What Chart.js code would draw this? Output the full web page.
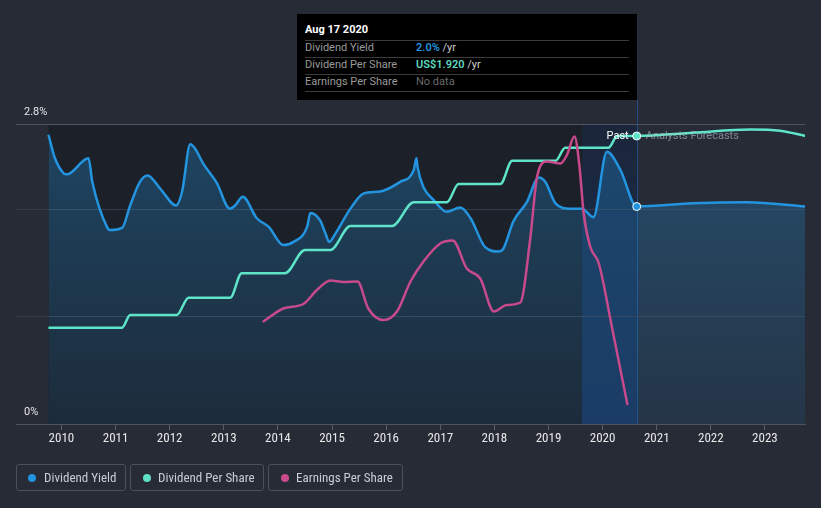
<!DOCTYPE html>
<html><head><meta charset="utf-8">
<script src="https://cdn.jsdelivr.net/npm/chart.js@4.4.0/dist/chart.umd.min.js"></script>
<style>
html,body{margin:0;padding:0;background:#262b36;width:821px;height:508px;overflow:hidden;font-family:Roboto,"Open Sans",sans-serif;}
canvas{position:absolute;left:0;top:0;}
#tip{position:absolute;left:297px;top:14px;width:340px;height:86px;background:#000;}
#tip .t{position:absolute;left:8px;top:9px;font-size:11px;font-weight:bold;color:#fff;line-height:14px;}
#tip .sep{position:absolute;left:8px;width:324px;height:1px;background:#3b3b3b;}
#tip .row{position:absolute;left:8px;width:324px;height:14px;line-height:14px;font-size:11px;}
#tip .lab{position:absolute;left:0;color:#9a9a9a;}
#tip .val{position:absolute;left:111px;color:#cfcfcf;}
.leg{position:absolute;top:464px;height:25px;border:1px solid #4a505b;border-radius:3px;box-sizing:content-box;}
.leg .dot{position:absolute;top:9px;width:8px;height:8px;border-radius:50%;}
.leg .txt{position:absolute;top:0;line-height:25px;font-family:"Liberation Sans Narrow","Roboto Condensed",Roboto,sans-serif;font-size:13px;color:#c9cdd4;white-space:nowrap;}
</style></head>
<body>
<canvas id="c" width="821" height="508"></canvas>
<div id="tip">
  <div class="t" id="tipTitle"></div>
  <div class="sep" style="top:26px"></div>
  <div class="row" style="top:27px"><span class="lab">Dividend Yield</span><span class="val"><b id="tipY" style="color:#2394df;font-weight:600"></b> /yr</span></div>
  <div class="sep" style="top:43px"></div>
  <div class="row" style="top:44px"><span class="lab">Dividend Per Share</span><span class="val"><b id="tipD" style="color:#5fd9c2;font-weight:600"></b> /yr</span></div>
  <div class="sep" style="top:60px"></div>
  <div class="row" style="top:61px"><span class="lab">Earnings Per Share</span><span class="val" style="color:#6a6a6a">No data</span></div>
  <div class="sep" style="top:77px"></div>
</div>
<div class="leg" style="left:16px;width:108px"><div class="dot" style="left:11px;background:#2394df"></div><div class="txt" style="left:27px">Dividend Yield</div></div>
<div class="leg" style="left:130px;width:132px"><div class="dot" style="left:12px;background:#5fe0c6"></div><div class="txt" style="left:27px">Dividend Per Share</div></div>
<div class="leg" style="left:268px;width:133px"><div class="dot" style="left:12px;background:#c74a8c"></div><div class="txt" style="left:27px">Earnings Per Share</div></div>
<script>
// ---- data (decimal years) ----
const yieldYears = [2009.76,2009.88,2010.04,2010.10,2010.50,2010.57,2010.84,2010.90,2011.12,2011.27,2011.45,2011.59,2011.82,2012.12,2012.23,2012.38,2012.47,2012.62,2012.87,2013.11,2013.21,2013.35,2013.61,2013.83,2014.10,2014.29,2014.54,2014.60,2014.78,2014.87,2014.95,2015.03,2015.34,2015.58,2015.89,2016.26,2016.51,2016.56,2016.58,2016.69,2016.88,2017.12,2017.37,2017.56,2017.83,2018.08,2018.17,2018.35,2018.60,2018.82,2018.94,2019.13,2019.40,2019.62,2019.83,2020.08,2020.33,2020.63,2021.68,2022.67,2023.75];
const yieldValues = [2.70,2.48,2.34,2.33,2.48,2.26,1.84,1.81,1.83,2.04,2.26,2.32,2.20,2.04,2.17,2.61,2.57,2.43,2.25,2.01,2.04,2.12,1.92,1.84,1.67,1.70,1.84,1.97,1.90,1.79,1.70,1.75,2.01,2.15,2.17,2.26,2.37,2.48,2.40,2.21,2.09,1.98,2.02,1.92,1.65,1.61,1.64,1.89,2.07,2.30,2.26,2.06,2.01,2.01,1.93,2.54,2.37,2.03,2.06,2.07,2.03];
const dpsYears = [2009.76,2011.12,2011.27,2012.13,2012.35,2013.12,2013.33,2014.13,2014.50,2014.97,2015.34,2016.11,2016.51,2017.12,2017.34,2018.11,2018.33,2019.13,2019.31,2020.11,2020.27,2020.63,2021.68,2022.73,2023.28,2023.75];
const dpsValues = [0.642,0.642,0.727,0.727,0.842,0.842,1.005,1.005,1.16,1.16,1.32,1.32,1.478,1.478,1.60,1.60,1.755,1.755,1.842,1.842,1.92,1.92,1.942,1.963,1.955,1.92];
const epsYears = [2013.72,2014.10,2014.47,2014.72,2014.97,2015.21,2015.47,2015.67,2015.95,2016.20,2016.45,2016.69,2017.00,2017.23,2017.49,2017.74,2017.99,2018.23,2018.48,2018.66,2018.79,2018.97,2019.22,2019.34,2019.48,2019.57,2019.65,2019.77,2019.93,2020.17,2020.46];
const epsValues = [2.04,2.31,2.40,2.68,2.87,2.84,2.85,2.31,2.08,2.25,2.85,3.25,3.61,3.67,3.11,2.91,2.25,2.38,2.43,3.68,4.95,5.25,5.21,5.38,5.75,5.18,4.21,3.55,3.21,1.95,0.38];
const yearTicks = [2010,2011,2012,2013,2014,2015,2016,2017,2018,2019,2020,2021,2022,2023];
const yieldAxisLabels = [2.8, 0];
const yieldGrid = [0,1,2,2.8];
const NOW = 2020.63;
const LAST_YEAR_START = 2019.62;
const tipTitle = 'Aug 17 2020';

const pts = (xs, ys) => xs.map((x,i)=>({x, y: ys[i]}));
const iNow = yieldYears.indexOf(NOW), dNow = dpsYears.indexOf(NOW);
document.getElementById('tipTitle').textContent = tipTitle;
document.getElementById('tipY').textContent = yieldValues[iNow].toFixed(1) + '%';
document.getElementById('tipD').textContent = 'US$' + dpsValues[dNow].toFixed(3);

const fillGrad = (c) => {
  const a = c.chart.chartArea;
  if (!a) return 'rgba(35,148,223,0.2)';
  const g = c.chart.ctx.createLinearGradient(0, a.top, 0, a.bottom);
  g.addColorStop(0, 'rgba(35,148,223,0.32)');
  g.addColorStop(1, 'rgba(35,148,223,0.10)');
  return g;
};
const nowRadius = (c) => (c.raw && c.raw.x === NOW) ? 4 : 0;

const decor = {
  id: 'decor',
  beforeDraw(chart) {
    const {ctx, chartArea: a, scales: {x}} = chart;
    const x0 = x.getPixelForValue(yieldYears[0]);
    const xn = x.getPixelForValue(NOW);
    const xb = x.getPixelForValue(LAST_YEAR_START);
    ctx.save();
    ctx.fillStyle = 'rgba(0,0,0,0.25)';
    ctx.fillRect(x0, a.top, xn - x0, a.bottom - a.top);
    const g = ctx.createLinearGradient(0, a.top, 0, a.bottom);
    g.addColorStop(0, 'rgba(20,70,150,0.16)');
    g.addColorStop(1, 'rgba(20,80,170,0.38)');
    ctx.fillStyle = g;
    ctx.fillRect(xb, a.top, xn - xb, a.bottom - a.top);
    ctx.strokeStyle = '#1f4b86';
    ctx.lineWidth = 1;
    ctx.beginPath();
    ctx.moveTo(Math.round(xn) + 0.5, 100);
    ctx.lineTo(Math.round(xn) + 0.5, a.bottom);
    ctx.stroke();
    ctx.restore();
  },
  afterDraw(chart) {
    const {ctx, scales: {x, y, yd}} = chart;
    ctx.save();
    ctx.font = '11px Roboto, sans-serif';
    ctx.textBaseline = 'middle';
    ctx.fillStyle = '#e6e6e6';
    ctx.textAlign = 'left';
    yieldAxisLabels.forEach(v => ctx.fillText(v + '%', 24, y.getPixelForValue(v) - 12));
    const xn = x.getPixelForValue(NOW);
    const yp = yd.getPixelForValue(dpsValues[dNow]);
    ctx.textAlign = 'right';
    ctx.fillStyle = '#ffffff';
    ctx.fillText('Past', xn - 8, yp + 0.5);
    ctx.textAlign = 'left';
    ctx.fillStyle = 'rgba(190,195,205,0.6)';
    ctx.fillText('Analysts Forecasts', xn + 9, yp + 0.5);
    ctx.restore();
  }
};

new Chart(document.getElementById('c'), {
  type: 'line',
  data: {
    datasets: [
      { label: 'Earnings Per Share', data: pts(epsYears, epsValues), yAxisID: 'ye',
        borderColor: '#c74a8c', borderWidth: 2.5, fill: false, pointRadius: 0, cubicInterpolationMode: 'monotone' },
      { label: 'Dividend Per Share', data: pts(dpsYears, dpsValues), yAxisID: 'yd',
        borderColor: '#5ee4c8', borderWidth: 2.5, fill: false, cubicInterpolationMode: 'monotone',
        pointRadius: nowRadius, pointBackgroundColor: '#5ee4c8', pointBorderColor: '#ffffff', pointBorderWidth: 1 },
      { label: 'Dividend Yield', data: pts(yieldYears, yieldValues), yAxisID: 'y',
        borderColor: '#2394df', borderWidth: 2.5, fill: 'origin', backgroundColor: fillGrad, cubicInterpolationMode: 'monotone',
        pointRadius: nowRadius, pointBackgroundColor: '#2394df', pointBorderColor: '#ffffff', pointBorderWidth: 1 }
    ]
  },
  options: {
    responsive: false, animation: false, devicePixelRatio: 1,
    layout: { padding: { left: 16, right: 16, top: 124, bottom: 44 } },
    plugins: { legend: { display: false }, tooltip: { enabled: false } },
    scales: {
      x: {
        type: 'linear', min: 2009.16, max: 2023.74,
        afterBuildTicks: s => { s.ticks = yearTicks.map(v => ({ value: v })); },
        afterFit: s => { s.height = 40; },
        ticks: { color: '#e8e8e8', padding: 1, maxRotation: 0, autoSkip: false,
          font: { family: '"Liberation Sans Narrow","Roboto Condensed",Roboto,sans-serif', size: 13 },
          callback: v => String(v) },
        grid: { drawOnChartArea: false, tickLength: 6, color: '#5a5f69' },
        border: { color: '#50555f', width: 1 }
      },
      y: {
        position: 'left', min: 0, max: 2.8,
        afterBuildTicks: s => { s.ticks = yieldGrid.map(v => ({ value: v })); },
        afterFit: s => { s.width = 0; },
        ticks: { display: false },
        grid: { drawTicks: false, lineWidth: 1,
          color: c => c.tick.value === 2.8 ? '#4f5460' : (c.tick.value === 0 ? 'rgba(0,0,0,0)' : '#363c47') },
        border: { display: false }
      },
      yd: { display: false, min: 0, max: 2.0 },
      ye: { display: false, min: 0, max: 6 }
    }
  },
  plugins: [decor]
});
</script>
</body></html>
